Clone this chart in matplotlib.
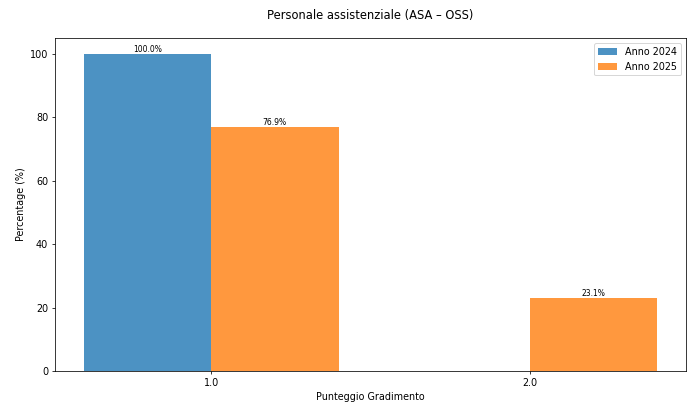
import numpy as np
import matplotlib.pyplot as plt

# Data
scores = [1.0, 2.0]
pct_2024 = [100.0, 0.0]
pct_2025 = [76.9, 23.1]

x = np.arange(len(scores))
width = 0.4

fig, ax = plt.subplots(figsize=(10, 406 / 69.2), dpi=69.2)

bars1 = ax.bar(x + 1 - width / 2, pct_2024, width, label='Anno 2024', color='tab:blue', alpha=0.8)
bars2 = ax.bar(x + 1 + width / 2, pct_2025, width, label='Anno 2025', color='tab:orange', alpha=0.8)

# value labels on top of non-empty bars
for bars in (bars1, bars2):
    for b in bars:
        h = b.get_height()
        if h > 0:
            ax.text(b.get_x() + b.get_width() / 2, h, f'{h:.1f}%',
                    ha='center', va='bottom', fontsize=8)

ax.set_xticks(x + 1)
ax.set_xticklabels([f'{s:.1f}' for s in scores])
ax.set_xlabel('Punteggio Gradimento')
ax.set_ylabel('Percentage (%)')
ax.set_title('Personale assistenziale (ASA – OSS)', fontsize=12, pad=20)
ax.legend(loc='upper right')

plt.subplots_adjust(left=0.0795, right=0.991, bottom=0.086, top=0.906)
plt.savefig('out.png')
